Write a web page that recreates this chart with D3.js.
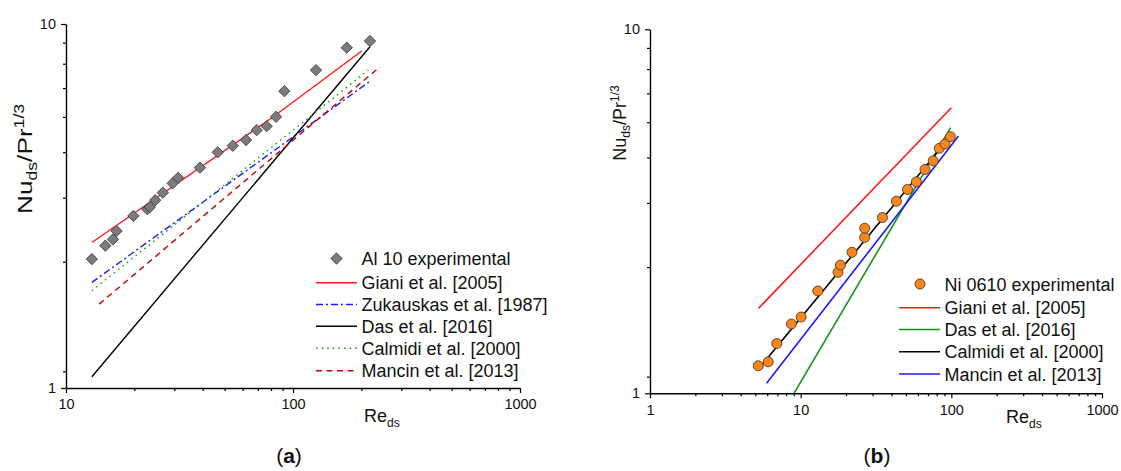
<!DOCTYPE html>
<html><head><meta charset="utf-8">
<script src="https://cdn.jsdelivr.net/npm/d3@7"></script>
<style>
html,body{margin:0;padding:0;background:#fff;}
svg text{font-family:"Liberation Sans",Arial,sans-serif;}
</style></head>
<body>
<svg id="chart" width="1121" height="471"></svg>
<script>
// ---------------- DATA ----------------
// Panel (a): Al 10
const alRe = [13.0,14.9,16.1,16.7,19.8,22.8,23.4,24.7,26.7,29.5,31.2,38.9,46.6,54.3,62.1,69.2,76.6,84.2,91.6,126.3,172.5,218.3];
const alNu = [2.26,2.46,2.56,2.70,2.97,3.10,3.14,3.28,3.44,3.65,3.78,4.03,4.44,4.63,4.80,5.11,5.24,5.56,6.54,7.47,8.61,8.98];
const aGianiRe = [13.0, 81.9, 200.8];
const aGianiNu = [2.51, 5.56, 8.43];
const aZukRe = [13.0, 216.8];
const aZukNu = [1.95, 6.94];
const aDasRe = [13.0, 218.3];
const aDasNu = [1.074, 8.66];
const aCalRe = [13.0, 214.7];
const aCalNu = [1.85, 7.47];
const aManRe = [14.0, 241.7];
const aManNu = [1.70, 7.63];
// Panel (b): Ni 0610
const niRe = [5.23,6.09,6.94,8.68,10.07,13.0,17.7,18.35,21.9,26.6,26.6,34.9,43.2,51.2,58.6,66.9,75.8,83.2,90.8,98.6];
const niNu = [1.19,1.22,1.37,1.55,1.62,1.91,2.15,2.25,2.44,2.68,2.84,3.04,3.37,3.63,3.81,4.12,4.35,4.71,4.84,5.07];
const bGianiRe = [5.24, 100];
const bGianiNu = [1.71, 6.09];
const bDasRe = [9.03, 98.9];
const bDasNu = [1.0, 5.37];
const bCalRe = [5.38, 97.6];
const bCalNu = [1.18, 5.05];
const bManRe = [5.94, 111.6];
const bManNu = [1.065, 5.09];
// Tick values
const aXMajor = [10, 100, 1000];
const bXMajor = [1, 10, 100, 1000];
const yMajor = [1, 10];
const legendA = ["Al 10 experimental","Giani et al. [2005]","Zukauskas et al. [1987]","Das et al. [2016]","Calmidi et al. [2000]","Mancin et al. [2013]"];
const legendB = ["Ni 0610 experimental","Giani et al. [2005]","Das et al. [2016]","Calmidi et al. [2000]","Mancin et al. [2013]"];

// ---------------- DRAW ----------------
const svg = d3.select("#chart");

function minorFor(domain){
  const out=[];
  for(let e=Math.round(Math.log10(domain[0])); e<Math.round(Math.log10(domain[1])); e++){
    for(let k=2;k<=9;k++) out.push(k*Math.pow(10,e));
  }
  return out;
}
// y minor ticks as they appear in the original (offset by a factor 10/9)
const yMinor = d3.range(1,9).map(k=>k*10/9);

function panel(cfg){
  const g = svg.append("g");
  const x = d3.scaleLog().domain(cfg.xDomain).range(cfg.xRange);
  const y = d3.scaleLog().domain([1,10]).range(cfg.yRange);
  const x0 = cfg.xRange[0], y0 = cfg.yRange[0];

  const xm = g.append("g").attr("transform",`translate(0,${y0})`)
    .call(d3.axisBottom(x).tickValues(minorFor(cfg.xDomain)).tickSize(3).tickFormat(""));
  xm.select(".domain").remove();
  const ym = g.append("g").attr("transform",`translate(${x0},0)`)
    .call(d3.axisLeft(y).tickValues(yMinor).tickSize(3).tickFormat(""));
  ym.select(".domain").remove();
  const xa = g.append("g").attr("transform",`translate(0,${y0})`)
    .call(d3.axisBottom(x).tickValues(cfg.xMajor).tickSize(5).tickSizeOuter(0).tickPadding(6).tickFormat(d3.format("d")));
  const ya = g.append("g").attr("transform",`translate(${x0},0)`)
    .call(d3.axisLeft(y).tickValues(yMajor).tickSize(5).tickSizeOuter(0).tickPadding(5).tickFormat(d3.format("d")));
  [xa,ya,xm,ym].forEach(a=>{
    a.selectAll("line").attr("stroke","#000").attr("stroke-width",1.2);
    a.selectAll(".domain").attr("stroke","#000").attr("stroke-width",1.4);
    a.selectAll("text").attr("font-size",14.5).attr("fill","#111").attr("font-family","'Liberation Sans',Arial,sans-serif");
  });

  const line = d3.line().x(d=>x(d[0])).y(d=>y(d[1]));
  cfg.lines.forEach(L=>{
    g.append("path").attr("d", line(d3.zip(L.re, L.nu)))
      .attr("fill","none").attr("stroke",L.color).attr("stroke-width",L.w||1.4)
      .attr("stroke-dasharray",L.dash||null);
  });
  const pts = d3.zip(cfg.re, cfg.nu);
  if(cfg.marker==="diamond"){
    g.selectAll(".pt").data(pts).enter().append("path")
      .attr("d", d3.symbol(d3.symbolSquare, 64)())
      .attr("transform",d=>`translate(${x(d[0])},${y(d[1])}) rotate(45)`)
      .attr("fill","#7b7b7b").attr("stroke","#3a3a3a").attr("stroke-width",0.8);
  } else {
    g.selectAll(".pt").data(pts).enter().append("circle")
      .attr("cx",d=>x(d[0])).attr("cy",d=>y(d[1])).attr("r",5)
      .attr("fill","#f7861f").attr("stroke","#5a3a18").attr("stroke-width",0.9);
  }

  const yt = g.append("text").attr("transform",`translate(${cfg.yTitle[0]},${cfg.yTitle[1]}) rotate(-90) scale(${cfg.yTitle[2]},1)`)
    .attr("text-anchor","middle").attr("font-size",cfg.yTitle[3]).attr("fill","#111");
  const fs = cfg.yTitle[3], ss = fs*0.67;
  yt.append("tspan").text("Nu");
  yt.append("tspan").attr("font-size",ss).attr("dy",fs*0.22).text("ds");
  yt.append("tspan").attr("dy",-fs*0.22).text("/Pr");
  yt.append("tspan").attr("font-size",ss).attr("dy",-fs*0.39).text("1/3");
  const xt = g.append("text").attr("x",cfg.xTitle[0]).attr("y",cfg.xTitle[1])
    .attr("font-size",18).attr("fill","#111");
  xt.append("tspan").text("Re");
  xt.append("tspan").attr("font-size",12).attr("dy",5).text("ds");

  const lg = g.append("g");
  cfg.legend.forEach((t,i)=>{
    const ry = cfg.legY[i];
    const lx = cfg.legX;
    if(i===0){
      if(cfg.marker==="diamond"){
        lg.append("path").attr("d", d3.symbol(d3.symbolSquare, 64)())
          .attr("transform",`translate(${lx+20.5},${ry}) rotate(45)`)
          .attr("fill","#7b7b7b").attr("stroke","#3a3a3a").attr("stroke-width",0.8);
      } else {
        lg.append("circle").attr("cx",lx+21).attr("cy",ry).attr("r",5)
          .attr("fill","#f7861f").attr("stroke","#5a3a18").attr("stroke-width",0.9);
      }
    } else {
      const L = cfg.lines[i-1];
      lg.append("line").attr("x1",lx).attr("x2",lx+41)
        .attr("y1",ry).attr("y2",ry).attr("stroke",L.color).attr("stroke-width",L.w||1.4)
        .attr("stroke-dasharray",L.dash||null);
    }
    lg.append("text").attr("x",lx+45.5).attr("y",ry+6.5)
      .attr("font-size",18).attr("fill","#111").text(t);
  });

  const cap = g.append("text").attr("x",cfg.cap[0]).attr("y",cfg.cap[1]).attr("text-anchor","middle")
    .attr("font-family","'Liberation Serif','DejaVu Serif',serif").attr("font-size",21).attr("fill","#111");
  cap.append("tspan").text("(");
  cap.append("tspan").attr("font-weight","bold").text(cfg.capLetter);
  cap.append("tspan").text(")");
}

panel({
  xDomain:[10,1000], xRange:[66,520], yRange:[388,24], xMajor:aXMajor,
  re:alRe, nu:alNu, marker:"diamond",
  lines:[
    {re:aGianiRe, nu:aGianiNu, color:"#ff1a1a"},
    {re:aZukRe, nu:aZukNu, color:"#1a1aff", dash:"7,3,2,3"},
    {re:aDasRe, nu:aDasNu, color:"#000000"},
    {re:aCalRe, nu:aCalNu, color:"#1a9a1a", dash:"1.6,4"},
    {re:aManRe, nu:aManNu, color:"#c00000", dash:"6,4.5"}
  ],
  legend:legendA, legX:316, legY:[258.5,282.7,304.5,326.3,348.3,370.7],
  yTitle:[32,159,1.25,21], xTitle:[364,422],
  cap:[289,463], capLetter:"a"
});
panel({
  xDomain:[1,1000], xRange:[650,1102], yRange:[393.3,29.3], xMajor:bXMajor,
  re:niRe, nu:niNu, marker:"circle",
  lines:[
    {re:bGianiRe, nu:bGianiNu, color:"#ff1a1a", w:1.6},
    {re:bDasRe, nu:bDasNu, color:"#129412", w:1.6},
    {re:bCalRe, nu:bCalNu, color:"#000000", w:1.6},
    {re:bManRe, nu:bManNu, color:"#1a1aff", w:1.6}
  ],
  legend:legendB, legX:899, legY:[284,307.7,329.5,351.7,374],
  yTitle:[626,123,1,18], xTitle:[1006,423],
  cap:[877,463], capLetter:"b"
});
</script>
</body></html>
